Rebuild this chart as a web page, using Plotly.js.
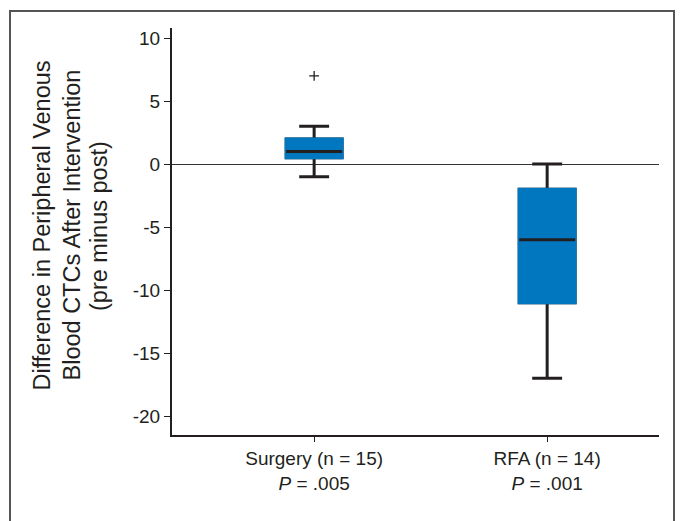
<!DOCTYPE html>
<html>
<head>
<meta charset="utf-8">
<script src="https://cdn.plot.ly/plotly-3.0.1.min.js"></script>
<style>html,body{margin:0;padding:0;background:#fff;}#chart{width:680px;height:521px;}</style>
</head>
<body>
<div id="chart"></div>
<script>
// ---- data ----
const groupPos = [0, 1];
const groupNames = ["Surgery", "RFA"];
const groupN = [15, 14];
const pValues = [".005", ".001"];
const q1 = [0.5, -11];
const median = [1, -6];
const q3 = [2, -2];
const lowerWhisker = [-1, -17];
const upperWhisker = [3, 0];
const outlierX = [0];
const outlierY = [7];
const yTickVals = [-20, -15, -10, -5, 0, 5, 10];
const yTickText = ["-20", "-15", "-10", "-5", "0", "5", "10"];
const yTitleLines = ["Difference in Peripheral Venous", "Blood CTCs After Intervention", "(pre minus post)"];

// ---- styles ----
const dark = "#231f20";
const blue = "#0077bf";
const sans = "Liberation Sans, Arial, Helvetica, sans-serif";
const boxW = 0.240;

const xTickText = groupNames.map((g, i) => `${g} (n = ${groupN[i]})<br><i>P</i> = ${pValues[i]}`);

const traces = [
  { // whiskers, caps, outline
    type: "box", x: groupPos, q1: q1, median: median, q3: q3,
    lowerfence: lowerWhisker, upperfence: upperWhisker,
    width: boxW, whiskerwidth: 0.535, boxpoints: false,
    line: { color: dark, width: 3 }, fillcolor: dark, hoverinfo: "skip"
  },
  { // blue body
    type: "box", x: groupPos, q1: q1, median: q1, q3: q3,
    lowerfence: q1, upperfence: q3,
    width: boxW, whiskerwidth: 0, boxpoints: false,
    line: { color: blue, width: 3 }, fillcolor: blue, hoverinfo: "skip"
  },
  { // median line
    type: "box", x: groupPos, q1: median, median: median, q3: median,
    lowerfence: median, upperfence: median,
    width: boxW, whiskerwidth: 0, boxpoints: false,
    line: { color: dark, width: 3 }, fillcolor: dark, hoverinfo: "skip"
  },
  { // outlier
    type: "scatter", mode: "markers", x: outlierX, y: outlierY,
    marker: { symbol: "cross-thin", size: 7, color: dark, line: { color: dark, width: 1.3 } },
    hoverinfo: "skip"
  }
];

const pl = 172, pr = 659, pt = 28, pb = 435;
const pw = pr - pl, ph = pb - pt;
const px = v => (v - pl) / pw;
const py = v => (pb - v) / ph;

const titleX = [41, 71, 99];
const titleY = [225.5, 225.5, 226];
const annotations = yTitleLines.map((t, i) => ({
  text: t, xref: "paper", yref: "paper", x: px(titleX[i]), y: py(titleY[i]),
  xanchor: "center", yanchor: "middle", textangle: -90, showarrow: false,
  font: { family: sans, size: 23.5, color: dark }
}));

const layout = {
  width: 680, height: 521,
  margin: { l: pl, r: 680 - pr, t: pt, b: 521 - pb },
  paper_bgcolor: "#fff", plot_bgcolor: "#fff",
  showlegend: false,
  boxmode: "overlay",
  xaxis: {
    range: [-0.61, 1.48], tickvals: groupPos, ticktext: xTickText,
    ticks: "outside", ticklen: 5, tickwidth: 1, tickcolor: dark,
    showline: true, linewidth: 2, linecolor: dark,
    showgrid: false, zeroline: false,
    tickfont: { family: sans, size: 19, color: dark }
  },
  yaxis: {
    range: [-21.5, 10.8], tickvals: yTickVals, ticktext: yTickText,
    ticks: "outside", ticklen: 6, tickwidth: 1, tickcolor: dark,
    showline: true, linewidth: 2, linecolor: dark,
    showgrid: false, zeroline: true, zerolinecolor: "#333", zerolinewidth: 1,
    tickfont: { family: sans, size: 19, color: dark }
  },
  annotations: annotations,
  shapes: [{
    type: "rect", xref: "paper", yref: "paper",
    x0: px(10), x1: px(674), y0: py(540), y1: py(11),
    line: { color: "#555", width: 2 }, fillcolor: "rgba(0,0,0,0)", layer: "below"
  }]
};

Plotly.newPlot("chart", traces, layout, { staticPlot: true, displayModeBar: false });
</script>
</body>
</html>
